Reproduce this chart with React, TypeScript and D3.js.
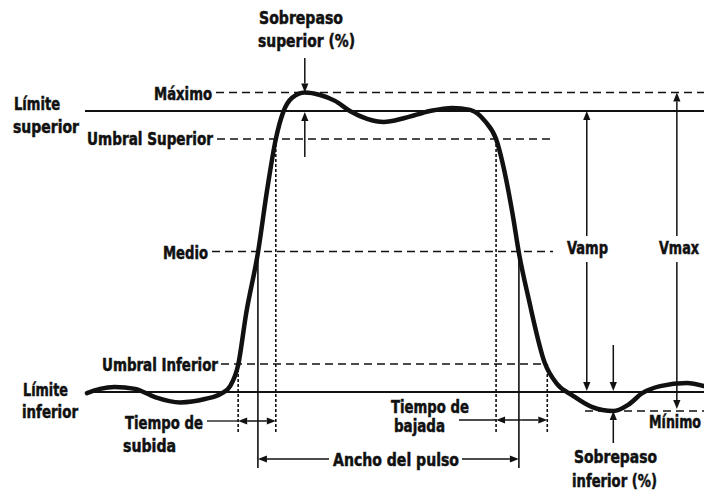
import React from 'react';
import * as d3 from 'd3';

// Waveform samples: time (arbitrary units 0..100) and voltage (% of amplitude)
const waveT = [0, 2.1, 4.5, 7.8, 11.0, 15.1, 19.1, 21.9, 23.2, 24.5, 25.8, 27.7, 29.2, 30.6, 31.8, 33.2, 35.3, 37.8, 40.2, 42.6, 45.4, 48.1, 51.5, 55.6, 59.2, 62.1, 64.5, 66.3, 67.9, 69.0, 70.0, 71.6, 74.2, 76.2, 78.6, 81.8, 85.3, 87.7, 90.0, 92.9, 97.2, 100];
const waveV = [-0.4, 1.1, 1.8, 1.1, -1.8, -3.7, -2.5, -0.4, 2.1, 9.6, 28, 49.5, 72, 90.0, 99.6, 104.6, 106.6, 105.7, 103.6, 100, 97.2, 96.1, 97.5, 100, 101.1, 100.4, 96.4, 90, 76, 63, 49.5, 33, 10.3, 2.8, -1.1, -5.3, -6.8, -4.6, -0.4, 2.1, 3.2, 2.1];

// Reference levels (voltage %)
const levelNames = ['Límite inferior', 'Umbral Inferior', 'Medio', 'Umbral Superior', 'Límite superior', 'Máximo', 'Mínimo'];
const levelValues = [0, 10, 50, 90, 100, 106.6, -6.8];

// Crossing times
const crossNames = ['rise10', 'rise50', 'rise90', 'fall90', 'fall50', 'fall10'];
const crossTimes = [24.5, 27.7, 30.6, 66.3, 70.0, 74.6];

// Measurement marker times
const markerNames = ['overshoot', 'vamp', 'undershoot', 'vmax'];
const markerTimes = [35.3, 81.0, 85.3, 95.6];

// Text labels
const labelTexts = ['Sobrepaso', 'superior (%)', 'Máximo', 'Límite', 'superior', 'Umbral Superior', 'Medio', 'Umbral Inferior', 'Límite', 'inferior', 'Tiempo de', 'subida', 'Tiempo de', 'bajada', 'Ancho del pulso', 'Mínimo', 'Sobrepaso', 'inferior (%)', 'Vamp', 'Vmax'];

// Layout (pixels) for labels: anchor x, baseline, width, anchor
const labelLayout: [number, number, number, string][] = [
  [259, 24, 84, 'start'], [258, 47, 97, 'start'], [154, 100, 58, 'start'], [14, 110, 46, 'start'], [13, 133, 66, 'start'],
  [87, 145, 126, 'start'], [163, 259, 45, 'start'], [102, 371, 116, 'start'], [23, 396, 45, 'start'], [22, 418, 56, 'start'],
  [125, 429, 78, 'start'], [123, 452, 53, 'start'], [391, 413, 78, 'start'], [394, 432, 51, 'start'], [333, 466, 126, 'start'],
  [701, 428, 52, 'end'], [574, 463, 83, 'start'], [572, 487, 85, 'start'], [567, 254, 41, 'start'], [699, 254, 40, 'end'],
];

const W = 704, H = 494;
const INK = '#111';

function Arrow({ x1, y1, x2, y2, sw = 1.5 }: { x1: number; y1: number; x2: number; y2: number; sw?: number }) {
  const ang = Math.atan2(y2 - y1, x2 - x1);
  const L = 9, hw = 3.6;
  const bx = x2 - L * Math.cos(ang), by = y2 - L * Math.sin(ang);
  const px = -Math.sin(ang) * hw, py = Math.cos(ang) * hw;
  return (
    <g>
      <line x1={x1} y1={y1} x2={bx} y2={by} stroke={INK} strokeWidth={sw} />
      <polygon points={`${x2},${y2} ${bx + px},${by + py} ${bx - px},${by - py}`} fill={INK} />
    </g>
  );
}

export default function App() {
  const x = d3.scaleLinear().domain([0, 100]).range([87, 704]);
  const y = d3.scaleLinear().domain([0, 100]).range([392, 111]);
  const lv = (n: string) => y(levelValues[levelNames.indexOf(n)]);
  const ct = (n: string) => x(crossTimes[crossNames.indexOf(n)]);
  const mt = (n: string) => x(markerTimes[markerNames.indexOf(n)]);

  const pts: [number, number][] = waveT.map((t, i) => [x(t), y(waveV[i])]);
  const path = d3.line().curve(d3.curveMonotoneX)(pts) || '';

  const yMax = lv('Máximo'), yTop = lv('Límite superior'), yUS = lv('Umbral Superior');
  const yMid = lv('Medio'), yUI = lv('Umbral Inferior'), yBase = lv('Límite inferior'), yMin = lv('Mínimo');

  const dash = '8,5';
  const dot = '3,2';
  const riseY = 421, fallY = 420, widthY = 459, tickBottom = 433, widthBottom = 468;

  return (
    <svg width={W} height={H} style={{ position: 'absolute', left: 0, top: 0, background: '#fff' }}
      fontFamily="'Liberation Sans Narrow', 'DejaVu Sans Condensed', 'Arial Narrow', sans-serif" fontWeight="bold" fontSize={17.5}>
      <rect x={0} y={0} width={W} height={H} fill="#fff" />
      {/* solid limit lines */}
      <line x1={85} x2={W} y1={yTop} y2={yTop} stroke={INK} strokeWidth={2} />
      <line x1={87} x2={W} y1={yBase} y2={yBase} stroke={INK} strokeWidth={2} />
      {/* dashed level lines */}
      <line x1={216} x2={W} y1={yMax} y2={yMax} stroke={INK} strokeWidth={1.5} strokeDasharray={dash} />
      <line x1={217} x2={553} y1={yUS} y2={yUS} stroke={INK} strokeWidth={1.5} strokeDasharray={dash} />
      <line x1={212} x2={553} y1={yMid} y2={yMid} stroke={INK} strokeWidth={1.5} strokeDasharray={dash} />
      <line x1={221} x2={545} y1={yUI} y2={yUI} stroke={INK} strokeWidth={1.5} strokeDasharray={dash} />
      <line x1={585} x2={W} y1={yMin} y2={yMin} stroke={INK} strokeWidth={1.5} strokeDasharray={dash} />

      {/* vertical crossing lines */}
      <line x1={ct('rise10')} x2={ct('rise10')} y1={yUI} y2={tickBottom} stroke={INK} strokeWidth={1.6} strokeDasharray={dot} />
      <line x1={ct('rise90')} x2={ct('rise90')} y1={yUS} y2={tickBottom} stroke={INK} strokeWidth={1.6} strokeDasharray={dot} />
      <line x1={ct('fall90')} x2={ct('fall90')} y1={yUS} y2={tickBottom} stroke={INK} strokeWidth={1.6} strokeDasharray={dot} />
      <line x1={ct('fall10')} x2={ct('fall10')} y1={yUI} y2={tickBottom} stroke={INK} strokeWidth={1.6} strokeDasharray={dot} />
      <line x1={ct('rise50')} x2={ct('rise50')} y1={yMid} y2={widthBottom} stroke={INK} strokeWidth={1.6} />
      <line x1={ct('fall50')} x2={ct('fall50')} y1={yMid} y2={widthBottom} stroke={INK} strokeWidth={1.6} />

      {/* waveform */}
      <path d={path} fill="none" stroke={INK} strokeWidth={4.5} strokeLinejoin="round" strokeLinecap="round" />

      {/* rise time */}
      <line x1={207} x2={ct('rise10')} y1={riseY} y2={riseY} stroke={INK} strokeWidth={1.3} />
      <Arrow x1={(ct('rise10') + ct('rise90')) / 2} y1={riseY} x2={ct('rise10')} y2={riseY} />
      <Arrow x1={(ct('rise10') + ct('rise90')) / 2} y1={riseY} x2={ct('rise90')} y2={riseY} />
      {/* fall time */}
      <line x1={459} x2={ct('fall90')} y1={fallY} y2={fallY} stroke={INK} strokeWidth={1.3} />
      <Arrow x1={(ct('fall90') + ct('fall10')) / 2} y1={fallY} x2={ct('fall90')} y2={fallY} />
      <Arrow x1={(ct('fall90') + ct('fall10')) / 2} y1={fallY} x2={ct('fall10')} y2={fallY} />
      {/* pulse width */}
      <Arrow x1={329} y1={widthY} x2={ct('rise50')} y2={widthY} />
      <Arrow x1={462} y1={widthY} x2={ct('fall50')} y2={widthY} />

      {/* overshoot */}
      <Arrow x1={mt('overshoot')} y1={58} x2={mt('overshoot')} y2={yMax} />
      <Arrow x1={mt('overshoot')} y1={157} x2={mt('overshoot')} y2={yTop + 1} />
      {/* undershoot */}
      <Arrow x1={mt('undershoot')} y1={345} x2={mt('undershoot')} y2={yBase - 1} />
      <Arrow x1={mt('undershoot')} y1={443} x2={mt('undershoot')} y2={yMin} />
      {/* Vamp */}
      <Arrow x1={mt('vamp')} y1={236} x2={mt('vamp')} y2={yTop} />
      <Arrow x1={mt('vamp')} y1={262} x2={mt('vamp')} y2={yBase - 1} />
      {/* Vmax */}
      <Arrow x1={mt('vmax')} y1={236} x2={mt('vmax')} y2={yMax} />
      <Arrow x1={mt('vmax')} y1={262} x2={mt('vmax')} y2={yMin - 2} />

      {/* labels */}
      {labelTexts.map((t, i) => (
        <text key={i} x={labelLayout[i][0]} y={labelLayout[i][1]} textLength={labelLayout[i][2]}
          textAnchor={labelLayout[i][3]} lengthAdjust="spacingAndGlyphs" fill={INK} stroke={INK} strokeWidth={0.5}>{t}</text>
      ))}
    </svg>
  );
}
